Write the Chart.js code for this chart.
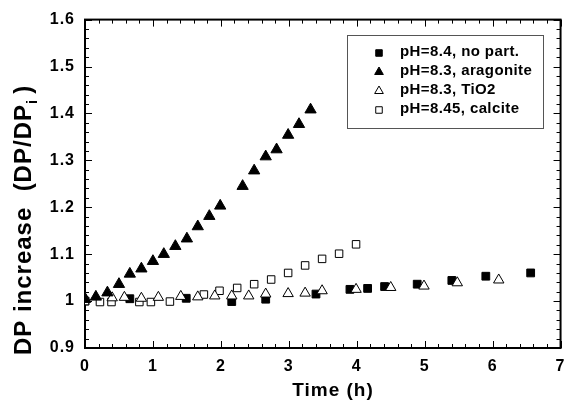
<!DOCTYPE html>
<html>
<head>
<meta charset="utf-8">
<script src="https://cdn.jsdelivr.net/npm/chart.js@4.4.0/dist/chart.umd.min.js"></script>
<style>
  body { margin: 0; background: #fff; }
  canvas { display: block; }
</style>
</head>
<body>
<canvas id="chart" width="574" height="407"></canvas>
<script>
// values (time in h, DP/DPi)
const noPartX = [0, 0.66, 1.49, 2.16, 2.66, 3.40, 3.90, 4.16, 4.41, 4.89, 5.40, 5.90, 6.56];
const noPartY = [1.0, 1.005, 1.006, 0.999, 1.004, 1.015, 1.025, 1.027, 1.031, 1.036, 1.044, 1.053, 1.060];

const aragoniteX = [0, 0.16, 0.33, 0.50, 0.66, 0.83, 1.00, 1.16, 1.33, 1.50, 1.66, 1.83, 1.99, 2.32, 2.49, 2.66, 2.82, 2.99, 3.15, 3.32];
const aragoniteY = [1.004, 1.009, 1.018, 1.036, 1.058, 1.069, 1.085, 1.100, 1.117, 1.133, 1.159, 1.181, 1.203, 1.245, 1.278, 1.308, 1.323, 1.354, 1.377, 1.408];

const tio2X = [0, 0.40, 0.58, 0.83, 1.08, 1.41, 1.66, 1.91, 2.16, 2.41, 2.66, 2.99, 3.24, 3.49, 3.99, 4.50, 4.99, 5.48, 6.09];
const tio2Y = [1.006, 1.007, 1.008, 1.006, 1.008, 1.010, 1.009, 1.011, 1.011, 1.011, 1.015, 1.016, 1.017, 1.022, 1.025, 1.029, 1.032, 1.039, 1.045];

const calciteX = [0, 0.22, 0.39, 0.80, 0.97, 1.25, 1.75, 1.98, 2.24, 2.49, 2.74, 2.99, 3.24, 3.49, 3.74, 3.99];
const calciteY = [1.0, 0.998, 0.998, 0.998, 0.998, 0.999, 1.014, 1.022, 1.028, 1.036, 1.046, 1.060, 1.076, 1.090, 1.101, 1.121];

const seriesLabels = ['pH=8.4, no part.', 'pH=8.3, aragonite', 'pH=8.3, TiO2', 'pH=8.45, calcite'];

const xTicks = [0, 1, 2, 3, 4, 5, 6, 7];
const yTicks = [0.9, 1.0, 1.1, 1.2, 1.3, 1.4, 1.5, 1.6];
const xMinorStep = 0.2;
const yMinorStep = 0.02;

const FONT = 'Arial, "Liberation Sans", Helvetica, sans-serif';

function toPoints(xs, ys) {
  return xs.map((x, i) => ({ x: x, y: ys[i] }));
}

// wider glyph spacing like the original figure
const spacingPlugin = {
  id: 'spacing',
  beforeDraw(chart) {
    chart.ctx.letterSpacing = '1px';
  }
};

// frame with inward ticks on all four sides, plus axis titles
const framePlugin = {
  id: 'frame',
  beforeDatasetsDraw(chart) {
    const { ctx, chartArea: a, scales } = chart;
    ctx.save();
    ctx.strokeStyle = '#000';
    ctx.lineWidth = 1;
    ctx.beginPath();
    const xs = scales.x, ys = scales.y;
    for (let i = 0; i <= Math.round((xs.max - xs.min) / xMinorStep); i++) {
      const v = xs.min + i * xMinorStep;
      const px = Math.round(xs.getPixelForValue(v)) + 0.5;
      const len = (i % 5 === 0) ? 7 : 4;
      ctx.moveTo(px, a.bottom); ctx.lineTo(px, a.bottom - len);
      ctx.moveTo(px, a.top); ctx.lineTo(px, a.top + len);
    }
    for (let i = 0; i <= Math.round((ys.max - ys.min) / yMinorStep); i++) {
      const v = ys.min + i * yMinorStep;
      const py = Math.round(ys.getPixelForValue(v)) + 0.5;
      const len = (i % 5 === 0) ? 7 : 4;
      ctx.moveTo(a.left, py); ctx.lineTo(a.left + len, py);
      ctx.moveTo(a.right, py); ctx.lineTo(a.right - len, py);
    }
    ctx.stroke();
    ctx.lineWidth = 2;
    ctx.strokeRect(a.left, a.top, a.right - a.left, a.bottom - a.top);

    ctx.fillStyle = '#000';
    ctx.letterSpacing = '1px';
    ctx.font = 'bold 19px ' + FONT;
    ctx.textAlign = 'center';
    ctx.textBaseline = 'middle';
    ctx.fillText('Time (h)', 333, 391);

    // y title with subscript i
    ctx.translate(23, 220);
    ctx.rotate(-Math.PI / 2);
    ctx.textAlign = 'left';
    ctx.textBaseline = 'alphabetic';
    const main = 'DP increase  (DP/DP';
    const big = 'bold 24px ' + FONT, small = 'bold 15px ' + FONT;
    ctx.font = big;
    const w1 = ctx.measureText(main).width;
    const w3 = ctx.measureText(')').width + 5;
    ctx.font = small;
    const w2 = ctx.measureText('i').width;
    const x0 = -(w1 + w2 + w3) / 2;
    ctx.font = big;
    ctx.fillText(main, x0, 8);
    ctx.font = small;
    ctx.fillText('i', x0 + w1, 14);
    ctx.font = big;
    ctx.fillText(')', x0 + w1 + w2 + 5, 8);
    ctx.restore();
  }
};

// boxed legend inside the plot, upper right
const legendPlugin = {
  id: 'boxLegend',
  afterDatasetsDraw(chart) {
    const ctx = chart.ctx;
    ctx.save();
    ctx.fillStyle = '#fff';
    ctx.fillRect(347, 35, 196, 93);
    ctx.strokeStyle = '#555';
    ctx.lineWidth = 1;
    ctx.strokeRect(347.5, 35.5, 196, 93);
    ctx.letterSpacing = '0.4px';
    ctx.font = 'bold 15px ' + FONT;
    ctx.textAlign = 'left';
    ctx.textBaseline = 'middle';
    chart.data.datasets.forEach((ds, i) => {
      const y = 52 + i * 19;
      ctx.fillStyle = ds.pointBackgroundColor;
      ctx.strokeStyle = ds.pointBorderColor;
      ctx.lineWidth = 1;
      Chart.helpers.drawPoint(ctx, { pointStyle: ds.pointStyle, radius: ds.pointStyle === 'rect' ? 4.6 : 5, rotation: 0, borderWidth: 1 }, 379, y + 1);
      ctx.fillStyle = '#000';
      ctx.fillText(ds.label, 400, y);
    });
    ctx.restore();
  }
};

const tickFont = { family: FONT, size: 16, weight: 'bold' };

new Chart(document.getElementById('chart'), {
  type: 'scatter',
  data: {
    datasets: [
      { label: seriesLabels[0], data: toPoints(noPartX, noPartY), pointStyle: 'rect', pointRadius: 5.5,
        pointBackgroundColor: '#000', pointBorderColor: '#000', pointBorderWidth: 1, order: 3 },
      { label: seriesLabels[1], data: toPoints(aragoniteX, aragoniteY), pointStyle: 'triangle', pointRadius: 6.5,
        pointBackgroundColor: '#000', pointBorderColor: '#000', pointBorderWidth: 1, order: 0 },
      { label: seriesLabels[2], data: toPoints(tio2X, tio2Y), pointStyle: 'triangle', pointRadius: 6,
        pointBackgroundColor: '#fff', pointBorderColor: '#000', pointBorderWidth: 1, order: 1 },
      { label: seriesLabels[3], data: toPoints(calciteX, calciteY), pointStyle: 'rect', pointRadius: 5.3,
        pointBackgroundColor: '#fff', pointBorderColor: '#000', pointBorderWidth: 1, order: 2 }
    ]
  },
  options: {
    responsive: false,
    animation: false,
    layout: { padding: { left: 0, right: 13, top: 16, bottom: 0 } },
    plugins: { legend: { display: false }, tooltip: { enabled: false } },
    scales: {
      x: {
        type: 'linear', min: 0, max: 7,
        afterBuildTicks: s => { s.ticks = xTicks.map(v => ({ value: v })); },
        afterFit: s => { s.height = 59; },
        grid: { display: false, drawTicks: false },
        border: { display: false },
        ticks: { font: tickFont, color: '#000', padding: 9, maxRotation: 0,
          callback: v => String(v) }
      },
      y: {
        type: 'linear', min: 0.9, max: 1.6,
        afterBuildTicks: s => { s.ticks = yTicks.map(v => ({ value: v })); },
        afterFit: s => { s.width = 85; },
        grid: { display: false, drawTicks: false },
        border: { display: false },
        ticks: { font: tickFont, color: '#000', padding: 10,
          callback: v => String(Math.round(v * 10) / 10) }
      }
    }
  },
  plugins: [spacingPlugin, framePlugin, legendPlugin]
});
</script>
</body>
</html>
